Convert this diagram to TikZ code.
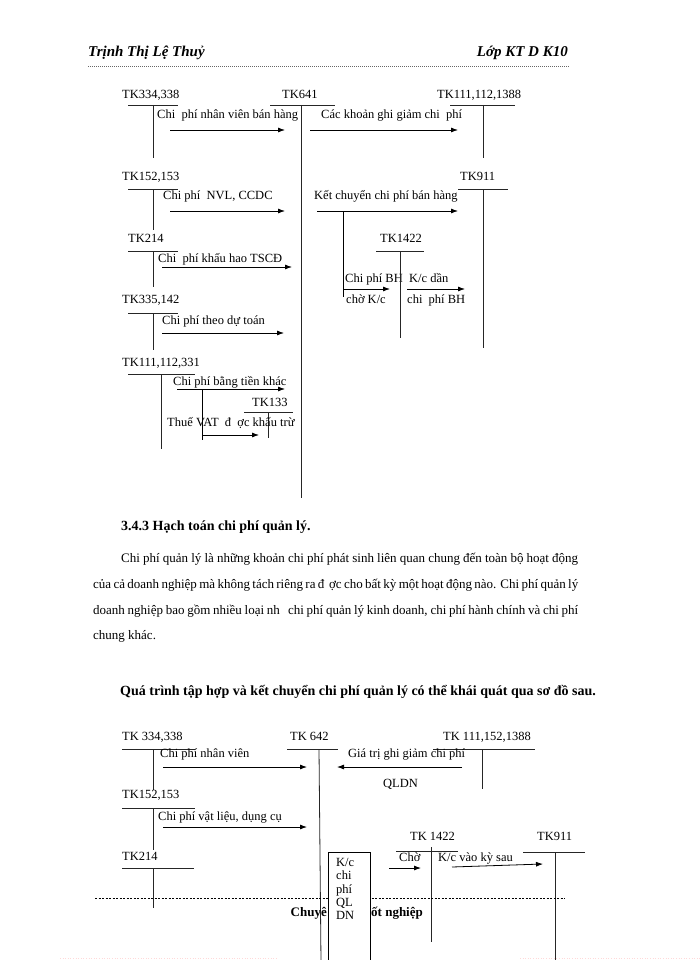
\documentclass[tikz,border=0pt]{standalone}
\usepackage{fontspec}
\setmainfont{Liberation Serif}
\usetikzlibrary{arrows.meta}
\begin{document}
\begin{tikzpicture}[x=1pt,y=-1pt,
  lbl/.style={font=\fontsize{12.5}{14}\selectfont, inner sep=0pt, anchor=base west},
  body/.style={font=\fontsize{13}{15}\selectfont, inner sep=0pt, anchor=base west},
  hdr/.style={font=\fontsize{15}{17}\selectfont\bfseries\itshape, inner sep=0pt},
  tline/.style={line width=0.8pt, draw=black!85},
  arr/.style={-{Latex[length=7pt,width=5pt]}, line width=0.8pt},
  brn/.style={line width=0.8pt}]
\useasboundingbox (0,0) rectangle (700,960);
\fill[white] (0,0) rectangle (700,960);
% header
\node[hdr, anchor=base west] (hl) at (88,57) {Trịnh Thị Lệ Thuỷ};
\node[hdr, anchor=base east] (hr) at (568,57) {Lớp KT D K10};
\coordinate (hd1) at (88,66); \coordinate (hd2) at (570,66);
\draw[dash pattern=on 1pt off 1pt, line width=0.6pt, black!60] (hd1) -- (hd2);

% ===== Diagram 1 =====
% TK334,338
\node[lbl] (a1) at (122,99) {TK334,338};
\coordinate (a1l) at (128,105); \coordinate (a1r) at (178,105);
\coordinate (a1t) at (153,105); \coordinate (a1b) at (153,158);
\draw[tline] (a1l) -- (a1r); \draw[tline] (a1t) -- (a1b);
% TK641
\node[lbl] (b1) at (282,99) {TK641};
\coordinate (b1l) at (270,105); \coordinate (b1r) at (335,105);
\coordinate (b1t) at (301,105); \coordinate (b1b) at (301,498);
\draw[tline] (b1l) -- (b1r); \draw[tline] (b1t) -- (b1b);
% TK111,112,1388
\node[lbl] (c1) at (437,99) {TK111,112,1388};
\coordinate (c1l) at (450,105); \coordinate (c1r) at (515,105);
\coordinate (c1t) at (483,105); \coordinate (c1b) at (483,158);
\draw[tline] (c1l) -- (c1r); \draw[tline] (c1t) -- (c1b);
% row 1 flows
\node[lbl] (t1) at (157,119) {Chi\ \ phí nhân viên bán hàng};
\coordinate (r1s) at (170,130); \coordinate (r1e) at (285,130);
\draw[arr] (r1s) -- (r1e);
\node[lbl] (t2) at (321,119) {Các khoản ghi giảm chi\ \ phí};
\coordinate (r2s) at (310,130); \coordinate (r2e) at (458,130);
\draw[arr] (r2s) -- (r2e);
% TK152,153
\node[lbl] (d1) at (122,181) {TK152,153};
\coordinate (d1l) at (128,189); \coordinate (d1r) at (178,189);
\coordinate (d1t) at (153,189); \coordinate (d1b) at (153,230);
\draw[tline] (d1l) -- (d1r); \draw[tline] (d1t) -- (d1b);
\node[lbl] (t3) at (163,200) {Chi phí\ \ NVL, CCDC};
\coordinate (r3s) at (170,211); \coordinate (r3e) at (285,211);
\draw[arr] (r3s) -- (r3e);
% TK911
\node[lbl] (e1) at (460,181) {TK911};
\coordinate (e1l) at (458,189); \coordinate (e1r) at (508,189);
\coordinate (e1t) at (483,189); \coordinate (e1b) at (483,348);
\draw[tline] (e1l) -- (e1r); \draw[tline] (e1t) -- (e1b);
\node[lbl] (t4) at (314,200) {Kết chuyển chi phí bán hàng};
\coordinate (r4s) at (317,211); \coordinate (r4e) at (458,211);
\draw[arr] (r4s) -- (r4e);
% branch to TK1422
\coordinate (br1) at (343,211); \coordinate (br2) at (343,297);
\coordinate (br3) at (343,289); \coordinate (br4) at (390,289);
\draw[brn] (br1) -- (br2);
\draw[arr] (br3) -- (br4);
\node[lbl] (t5) at (345,282) {Chi phí BH};
\node[lbl] (t6) at (346,303) {chờ K/c};
% TK1422
\node[lbl] (f1) at (380,242) {TK1422};
\coordinate (f1l) at (376,251); \coordinate (f1r) at (424,251);
\coordinate (f1t) at (400,251); \coordinate (f1b) at (400,338);
\draw[tline] (f1l) -- (f1r); \draw[tline] (f1t) -- (f1b);
\node[lbl] (t7) at (409,282) {K/c dần};
\coordinate (r5s) at (407,289); \coordinate (r5e) at (465,289);
\draw[arr] (r5s) -- (r5e);
\node[lbl] (t8) at (407,303) {chi\ \ phí BH};
% TK214
\node[lbl] (g1) at (128,242) {TK214};
\coordinate (g1l) at (128,251); \coordinate (g1r) at (178,251);
\coordinate (g1t) at (153,251); \coordinate (g1b) at (153,287);
\draw[tline] (g1l) -- (g1r); \draw[tline] (g1t) -- (g1b);
\node[lbl] (t9) at (158,262) {Chi\ \ phí khấu hao TSCĐ};
\coordinate (r6s) at (162,267); \coordinate (r6e) at (292,267);
\draw[arr] (r6s) -- (r6e);
% TK335,142
\node[lbl] (h1) at (122,303) {TK335,142};
\coordinate (h1l) at (128,313); \coordinate (h1r) at (178,313);
\coordinate (h1t) at (153,313); \coordinate (h1b) at (153,350);
\draw[tline] (h1l) -- (h1r); \draw[tline] (h1t) -- (h1b);
\node[lbl] (t10) at (162,324) {Chi phí theo dự toán};
\coordinate (r7s) at (162,333); \coordinate (r7e) at (284,333);
\draw[arr] (r7s) -- (r7e);
% TK111,112,331
\node[lbl] (i1) at (122,366) {TK111,112,331};
\coordinate (i1l) at (128,374); \coordinate (i1r) at (195,374);
\coordinate (i1t) at (161,374); \coordinate (i1b) at (161,449);
\draw[tline] (i1l) -- (i1r); \draw[tline] (i1t) -- (i1b);
\node[lbl] (t11) at (173,385) {Chi phí bằng tiền khác};
\coordinate (r8s) at (177,389); \coordinate (r8e) at (285,389);
\draw[arr] (r8s) -- (r8e);
\coordinate (br5) at (202,389); \coordinate (br6) at (202,440);
\coordinate (br7) at (202,435); \coordinate (br8) at (259,435);
\draw[brn] (br5) -- (br6);
\draw[arr] (br7) -- (br8);
% TK133
\node[lbl] (j1) at (252,406) {TK133};
\coordinate (j1l) at (244,412); \coordinate (j1r) at (293,412);
\coordinate (j1t) at (268,412); \coordinate (j1b) at (268,438);
\draw[tline] (j1l) -- (j1r); \draw[tline] (j1t) -- (j1b);
\node[lbl] (t12) at (167,426) {Thuế VAT\ \ đ\ \ ợc khấu trừ};

% ===== Section text =====
\node[body, font=\fontsize{14}{16}\selectfont\bfseries] (sec) at (121,530) {3.4.3 Hạch toán chi phí quản lý.};
\node[body] (p1) at (121,562) {\makebox[457pt][s]{Chi phí quản lý là những khoản chi phí phát sinh liên quan chung đến toàn bộ hoạt động}};
\node[body] (p2) at (93,588) {\makebox[485pt][s]{của cả doanh nghiệp mà không tách riêng ra đ\ \ ợc cho bất kỳ một hoạt động nào. Chi phí quản lý}};
\node[body] (p3) at (93,614) {\makebox[485pt][s]{doanh nghiệp bao gồm nhiều loại nh\ \ \ chi phí quản lý kinh doanh, chi phí hành chính và chi phí}};
\node[body] (p4) at (93,639) {chung khác.};
\node[body, font=\fontsize{14}{17}\selectfont\bfseries] (qt) at (120,695) {Quá trình tập hợp và kết chuyển chi phí quản lý có thể khái quát qua sơ đồ sau.};

% ===== Diagram 2 =====
% TK 334,338
\node[lbl] (k2) at (122,740) {TK 334,338};
\coordinate (k2l) at (122,749); \coordinate (k2r) at (195,749);
\coordinate (k2t) at (153,749); \coordinate (k2b) at (153,790);
\draw[tline] (k2l) -- (k2r); \draw[tline] (k2t) -- (k2b);
\node[lbl] (u1) at (160,757) {Chi phí nhân viên};
\coordinate (s1s) at (163,767); \coordinate (s1e) at (307,767);
\draw[arr] (s1s) -- (s1e);
% TK 642
\node[lbl] (l2) at (290,740) {TK 642};
\coordinate (l2l) at (287,749); \coordinate (l2r) at (338,749);
\coordinate (l2t) at (319,749); \coordinate (l2b) at (321,962);
\draw[tline] (l2l) -- (l2r); \draw[tline] (l2t) -- (l2b);
% TK 111,152,1388
\node[lbl] (m2) at (443,740) {TK 111,152,1388};
\coordinate (m2l) at (433,749); \coordinate (m2r) at (535,749);
\coordinate (m2t) at (482,749); \coordinate (m2b) at (482,789);
\draw[tline] (m2l) -- (m2r); \draw[tline] (m2t) -- (m2b);
\node[lbl] (u2) at (348,757) {Giá trị ghi giảm chi phí};
\coordinate (s2s) at (462,767); \coordinate (s2e) at (337,767);
\draw[arr] (s2s) -- (s2e);
\node[lbl] (u3) at (383,787) {QLDN};
% TK152,153
\node[lbl] (n2) at (122,798) {TK152,153};
\coordinate (n2l) at (122,808); \coordinate (n2r) at (195,808);
\coordinate (n2t) at (153,808); \coordinate (n2b) at (153,850);
\draw[tline] (n2l) -- (n2r); \draw[tline] (n2t) -- (n2b);
\node[lbl] (u4) at (158,820) {Chi phí vật liệu, dụng cụ};
\coordinate (s3s) at (163,827); \coordinate (s3e) at (307,827);
\draw[arr] (s3s) -- (s3e);
% TK214
\node[lbl] (o2) at (122,860) {TK214};
\coordinate (o2l) at (122,868); \coordinate (o2r) at (194,868);
\coordinate (o2t) at (153,868); \coordinate (o2b) at (153,908);
\draw[tline] (o2l) -- (o2r); \draw[tline] (o2t) -- (o2b);
% TK 1422
\node[lbl] (p2a) at (410,840) {TK 1422};
\coordinate (p2l) at (396,851); \coordinate (p2r) at (458,851);
\coordinate (p2t) at (431,847); \coordinate (p2b) at (431,942);
\draw[tline] (p2l) -- (p2r); \draw[tline] (p2t) -- (p2b);
\node[lbl] (u5) at (399,861) {Chờ};
\coordinate (s4s) at (389,868); \coordinate (s4e) at (421,868);
\draw[arr] (s4s) -- (s4e);
\node[lbl] (u6) at (438,861) {K/c vào kỳ sau};
\coordinate (s5s) at (452,867); \coordinate (s5e) at (543,864);
\draw[arr] (s5s) -- (s5e);
% TK911
\node[lbl] (q2) at (537,840) {TK911};
\coordinate (q2l) at (523,852); \coordinate (q2r) at (585,852);
\coordinate (q2t) at (555,852); \coordinate (q2b) at (555,962);
\draw[tline] (q2l) -- (q2r); \draw[tline] (q2t) -- (q2b);

% footer
\coordinate (fd1) at (95,898); \coordinate (fd2) at (565,898);
\draw[dash pattern=on 2pt off 1.5pt, line width=0.6pt] (fd1) -- (fd2);
\node[font=\fontsize{13}{15}\selectfont\bfseries, inner sep=0pt, anchor=base east] (ft1) at (327,916) {Chuyê};
\node[font=\fontsize{13}{15}\selectfont\bfseries, inner sep=0pt, anchor=base west] (ft2) at (371,916) {ốt nghiệp};
\coordinate (fb1) at (60,958); \coordinate (fb2) at (278,958);
\coordinate (fb3) at (520,958); \coordinate (fb4) at (700,958);
\draw[dotted, line width=0.6pt, red!15] (fb1) -- (fb2);
\draw[dotted, line width=0.6pt, red!15] (fb3) -- (fb4);
% box K/c chi phi QLDN
\node[draw, fill=white, line width=0.8pt, minimum width=42pt, minimum height=115pt, anchor=north west, inner sep=0pt] (bx) at (328,852) {};
\node[lbl, align=left, anchor=north west, font=\fontsize{12.5}{13.3}\selectfont] (bxt) at ([xshift=8pt,yshift=-6pt]bx.north west) {K/c\\chi\\phí\\QL\\DN};
\end{tikzpicture}
\end{document}
